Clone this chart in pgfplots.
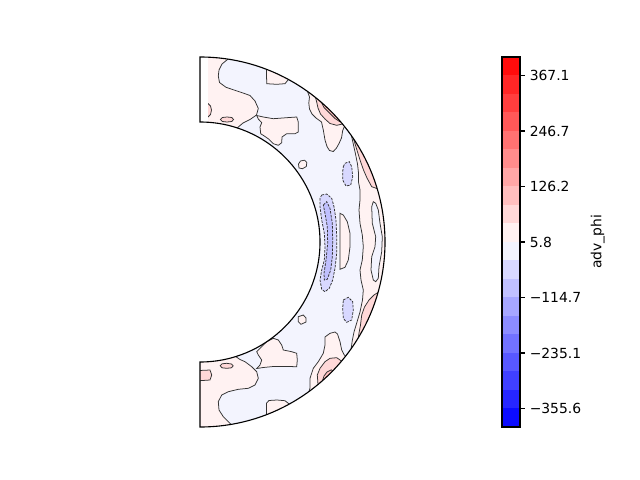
\documentclass[border=0pt]{standalone}
\usepackage{fontspec}
\setmainfont{DejaVu Sans}
\usepackage{pgfplots}
\pgfplotsset{compat=1.18}

% bwr colormap, 20 bands
\definecolor{b0}{rgb}{0.047,0.047,1}
\definecolor{b1}{rgb}{0.149,0.149,1}
\definecolor{b2}{rgb}{0.251,0.251,1}
\definecolor{b3}{rgb}{0.345,0.345,1}
\definecolor{b4}{rgb}{0.447,0.447,1}
\definecolor{b5}{rgb}{0.549,0.549,1}
\definecolor{b6}{rgb}{0.651,0.651,1}
\definecolor{b7}{rgb}{0.753,0.753,1}
\definecolor{b8}{rgb}{0.847,0.847,1}
\definecolor{b9}{rgb}{0.953,0.957,0.996}
\definecolor{b10}{rgb}{1,0.949,0.949}
\definecolor{b11}{rgb}{1,0.847,0.847}
\definecolor{b12}{rgb}{1,0.745,0.745}
\definecolor{b13}{rgb}{1,0.651,0.651}
\definecolor{b14}{rgb}{1,0.549,0.549}
\definecolor{b15}{rgb}{1,0.447,0.447}
\definecolor{b16}{rgb}{1,0.345,0.345}
\definecolor{b17}{rgb}{1,0.243,0.243}
\definecolor{b18}{rgb}{1,0.149,0.149}
\definecolor{b19}{rgb}{1,0.047,0.047}

\pgfplotsset{
  pos/.style={fill=#1, draw=black!80, line width=0.55pt},
  neg/.style={fill=#1, draw=black!80, line width=0.55pt, dash pattern=on 1.8pt off 0.9pt},
}

\begin{document}
\begin{tikzpicture}
% main panel, coordinates in image pixels (y down)
\begin{axis}[
  at={(0pt,0pt)}, anchor=south west,
  x=0.72pt, y=0.72pt, y dir=reverse,
  xmin=0, xmax=640, ymin=0, ymax=480,
  hide axis, clip=false,
]
\fill[b9] (axis cs:200,57) arc[start angle=90, end angle=-90, radius=133.2pt]
  -- (axis cs:200,362) arc[start angle=-90, end angle=90, radius=86.4pt] -- cycle;

% level 5.8 patches
\addplot[pos=b10] coordinates {(228,59.1) (222,64) (219,70) (218.3,76) (219.5,82.5) (226,87.3) (234,90) (243,93) (250,95.5) (255,101) (258.3,108.5) (256.5,115) (250,119.5) (243,123) (237.5,127.7) (237.5,140) (195,140) (195,45) (228,45)} --cycle;
\addplot[pos=b10] coordinates {(236,356.7) (240,359.5) (245,361.7) (251.7,366.7) (256.7,371.7) (258.3,378.3) (255,385) (248.3,388.3) (238.3,389.3) (228.3,391.7) (221.7,395) (218.3,401.7) (219,410) (223.3,416.7) (228.3,421.7) (231,424.4) (231,440) (195,440) (195,345) (236,345)} --cycle;
\addplot[pos=b10] coordinates {(266.5,60) (266.5,72) (266.7,83.7) (276.7,84.3) (285,83.7) (288.4,79.5) (290,60)} --cycle;
\addplot[pos=b10] coordinates {(266.5,425) (266.6,403) (269,400.5) (277,400) (285,400.7) (288.3,403.3) (289.5,404.5) (291,425)} --cycle;
\addplot[pos=b10] coordinates {(256.7,115.5) (263.3,117) (273.3,118.7) (286.7,117.7) (296.7,117) (298.3,122) (298.3,132) (295,133.7) (286.7,133.7) (282,137) (281.7,142.7) (278.3,145.3) (273.3,143.7) (269,139.3) (265,136.5) (260.7,133.7) (260,127) (261.7,122.7) (258.3,119)} --cycle;
\addplot[pos=b10] coordinates {(256.7,368.5) (263.3,367.5) (273.3,366.5) (286.7,366.5) (296.7,366.7) (297.3,360) (296.7,353.3) (291.7,351.7) (283.3,350) (281.7,345) (278.3,340) (273.3,338.3) (266.7,341.7) (263.3,345) (260,348.3) (256.7,351.7) (258.3,355) (261.7,360) (260,365)} --cycle;
\addplot[pos=b10] coordinates {(299,168) (298.5,164) (300.5,161) (304.5,160.2) (306.8,162.5) (306.3,166.5) (302.5,168.7)} --cycle;
\addplot[pos=b10] coordinates {(298.3,316.7) (303.3,315) (306,318) (306,322) (301,324.3) (298.3,321.7)} --cycle;
\addplot[pos=b10] coordinates {(307.5,91.4) (309.5,97) (308.8,103) (309.5,109) (312,114) (316,118) (321.5,122) (323.3,130) (325,140) (327,146.5) (329.5,150.5) (333.3,151.5) (336.5,148) (339,143.5) (341.5,138) (342.7,130.5) (344.5,126.3) (360,110) (310,80)} --cycle;
\addplot[pos=b10] coordinates {(309,391.5) (310,388) (310,378.3) (313.3,368.3) (318.3,361.7) (323.3,353.3) (325,345) (325,337) (330,333.3) (335,332) (337.5,334) (340,341.7) (341.7,350) (344,354.5) (345.5,356.3) (360,375) (310,410)} --cycle;
\addplot[pos=b10] coordinates {(351.5,135.8) (353.5,145) (355.5,154) (357.5,164) (358.5,173) (358.5,182) (360,190) (360,200) (359,210) (360,223.3) (362.3,235) (363.3,246.7) (362.3,260) (360,270) (361,280) (363.3,290) (362.5,300) (360,312) (357,322) (354,332) (352.2,341) (351.2,348.6) (380,360) (400,242) (380,120)} --cycle;
\addplot[pos=b10] coordinates {(340,213.3) (343.3,215) (347.3,221.7) (350,233.3) (350,246.7) (348.3,260) (345,267.3) (340,269.3)} --cycle;

% island inside the outer band
\addplot[pos=b9] coordinates {(373.3,201.7) (371.7,206.7) (372.3,223.3) (375.7,236.7) (375,246.7) (371.7,256.7) (371,270) (373.3,280) (375.7,281.7) (378.3,278.3) (379,266.7) (381.7,251.7) (382.3,236.7) (380,223.3) (378.3,210) (375.7,203.3)} --cycle;

% level 45.9 patches
\addplot[pos=b11] coordinates {(220.5,119.5) (222.3,117.5) (227,117) (231.8,117.5) (233.5,119.5) (231.8,121.5) (227,122) (222.3,121.5)} --cycle;
\addplot[pos=b11] coordinates {(220.2,365.8) (222,363.8) (226.7,363.3) (231.5,364) (233.2,365.8) (231.5,367.8) (226.7,368.3) (222,367.8)} --cycle;
\addplot[pos=b11] coordinates {(195,103.5) (208,103.5) (210.5,106) (211.5,110) (210.5,114.5) (208,117) (195,117)} --cycle;
\addplot[pos=b11] coordinates {(195,370.7) (210,370) (211.7,375) (210,380) (195,381)} --cycle;
\addplot[pos=b11] coordinates {(315.5,97.5) (316.7,102) (318,108) (320.5,114) (325,119) (330,123.5) (336.7,125.3) (342.5,124) (350,110) (316,88)} --cycle;
\addplot[pos=b11] coordinates {(318,384.5) (317.3,375) (320,368.3) (325,361.7) (330,358.3) (336.7,357.7) (341.5,361) (355,375) (318,400)} --cycle;
\addplot[pos=b11] coordinates {(353.5,138.7) (356,147) (360,160) (363.5,170) (367,178) (371.7,186.7) (377.5,188.7) (400,200) (370,120)} --cycle;
\addplot[pos=b11] coordinates {(378,292.4) (374,295) (369,300) (364.5,307) (361.7,315) (360.5,325) (359,333) (358.3,338) (375,360) (400,280)} --cycle;

% level 86.1 patches
\addplot[pos=b12] coordinates {(321.5,102.5) (324,107.5) (329,112.5) (335,118.5) (339.5,121.5) (345,110) (322,95)} --cycle;
\addplot[pos=b12] coordinates {(322.5,380.6) (324,376) (327,372) (331.5,369.8) (340,380) (325,392)} --cycle;

% negative levels
\addplot[neg=b8] coordinates {(321.7,195) (326.7,194) (331.7,198.3) (334,206.7) (336,220) (336.7,236.7) (336.7,253.3) (335,268.3) (332.7,280) (329.3,288.3) (325,291.7) (321.7,289.3) (320,280) (321.7,270) (324.3,260) (325,246.7) (324.3,233.3) (321.7,220) (320,206.7) (320,198.3)} --cycle;
\addplot[neg=b7] coordinates {(323.3,205) (326.7,201.7) (330,208.3) (332.3,223.3) (332.7,240) (332.3,256.7) (330.7,270) (327.3,279.3) (324.3,280) (324,273.3) (326,260) (327.7,243.3) (327.3,226.7) (325,213.3)} --cycle;
\addplot[neg=b8] coordinates {(343.3,166.7) (345,163.3) (349.3,161.7) (351.7,166.7) (352.7,176.7) (350.7,185) (346,186) (342.7,180) (342.7,171.7)} --cycle;
\addplot[neg=b8] coordinates {(343.3,300) (348.3,297.3) (352.7,301.7) (353.3,310) (351.7,320) (346.7,322.3) (343.3,318.3) (342.7,308.3)} --cycle;

% no data next to the pole
\fill[white] (axis cs:200,50) rectangle (axis cs:207.7,125);

% mask outside the shell and draw its edge
\fill[white, even odd rule] (axis cs:140,20) rectangle (axis cs:420,465)
  (axis cs:200,57) arc[start angle=90, end angle=-90, radius=133.2pt]
  -- (axis cs:200,362) arc[start angle=-90, end angle=90, radius=86.4pt] -- cycle;
\draw[line width=0.8pt] (axis cs:200,57) arc[start angle=90, end angle=-90, radius=133.2pt]
  -- (axis cs:200,362) arc[start angle=-90, end angle=90, radius=86.4pt] -- cycle;
\end{axis}

% colorbar
\begin{axis}[
  at={(361.44pt,38.16pt)}, anchor=south west,
  scale only axis, width=12.96pt, height=266.4pt,
  xmin=0, xmax=1, ymin=-395.7, ymax=407.3,
  xtick=\empty,
  ytick={-355.55,-235.1,-114.65,5.8,126.25,246.7,367.15},
  yticklabels={−355.6,−235.1,−114.7,5.8,126.2,246.7,367.1},
  ytick pos=right, yticklabel pos=right,
  tick align=outside, major tick length=3.5pt,
  every tick/.style={black, line width=0.8pt},
  axis line style={line width=0.8pt},
  ylabel={adv\_phi},
  tick label style={font=\fontsize{10}{12}\selectfont},
  label style={font=\fontsize{10}{12}\selectfont},
  axis on top,
]
\addplot[fill=b0,draw=none] coordinates {(0,-395.7)(1,-395.7)(1,-355.55)(0,-355.55)} --cycle;
\addplot[fill=b1,draw=none] coordinates {(0,-355.55)(1,-355.55)(1,-315.4)(0,-315.4)} --cycle;
\addplot[fill=b2,draw=none] coordinates {(0,-315.4)(1,-315.4)(1,-275.25)(0,-275.25)} --cycle;
\addplot[fill=b3,draw=none] coordinates {(0,-275.25)(1,-275.25)(1,-235.1)(0,-235.1)} --cycle;
\addplot[fill=b4,draw=none] coordinates {(0,-235.1)(1,-235.1)(1,-194.95)(0,-194.95)} --cycle;
\addplot[fill=b5,draw=none] coordinates {(0,-194.95)(1,-194.95)(1,-154.8)(0,-154.8)} --cycle;
\addplot[fill=b6,draw=none] coordinates {(0,-154.8)(1,-154.8)(1,-114.65)(0,-114.65)} --cycle;
\addplot[fill=b7,draw=none] coordinates {(0,-114.65)(1,-114.65)(1,-74.5)(0,-74.5)} --cycle;
\addplot[fill=b8,draw=none] coordinates {(0,-74.5)(1,-74.5)(1,-34.35)(0,-34.35)} --cycle;
\addplot[fill=b9,draw=none] coordinates {(0,-34.35)(1,-34.35)(1,5.8)(0,5.8)} --cycle;
\addplot[fill=b10,draw=none] coordinates {(0,5.8)(1,5.8)(1,45.95)(0,45.95)} --cycle;
\addplot[fill=b11,draw=none] coordinates {(0,45.95)(1,45.95)(1,86.1)(0,86.1)} --cycle;
\addplot[fill=b12,draw=none] coordinates {(0,86.1)(1,86.1)(1,126.25)(0,126.25)} --cycle;
\addplot[fill=b13,draw=none] coordinates {(0,126.25)(1,126.25)(1,166.4)(0,166.4)} --cycle;
\addplot[fill=b14,draw=none] coordinates {(0,166.4)(1,166.4)(1,206.55)(0,206.55)} --cycle;
\addplot[fill=b15,draw=none] coordinates {(0,206.55)(1,206.55)(1,246.7)(0,246.7)} --cycle;
\addplot[fill=b16,draw=none] coordinates {(0,246.7)(1,246.7)(1,286.85)(0,286.85)} --cycle;
\addplot[fill=b17,draw=none] coordinates {(0,286.85)(1,286.85)(1,327.0)(0,327.0)} --cycle;
\addplot[fill=b18,draw=none] coordinates {(0,327.0)(1,327.0)(1,367.15)(0,367.15)} --cycle;
\addplot[fill=b19,draw=none] coordinates {(0,367.15)(1,367.15)(1,407.3)(0,407.3)} --cycle;
\end{axis}
\path (0pt,0pt) rectangle (460.8pt,345.6pt);
\end{tikzpicture}
\end{document}
